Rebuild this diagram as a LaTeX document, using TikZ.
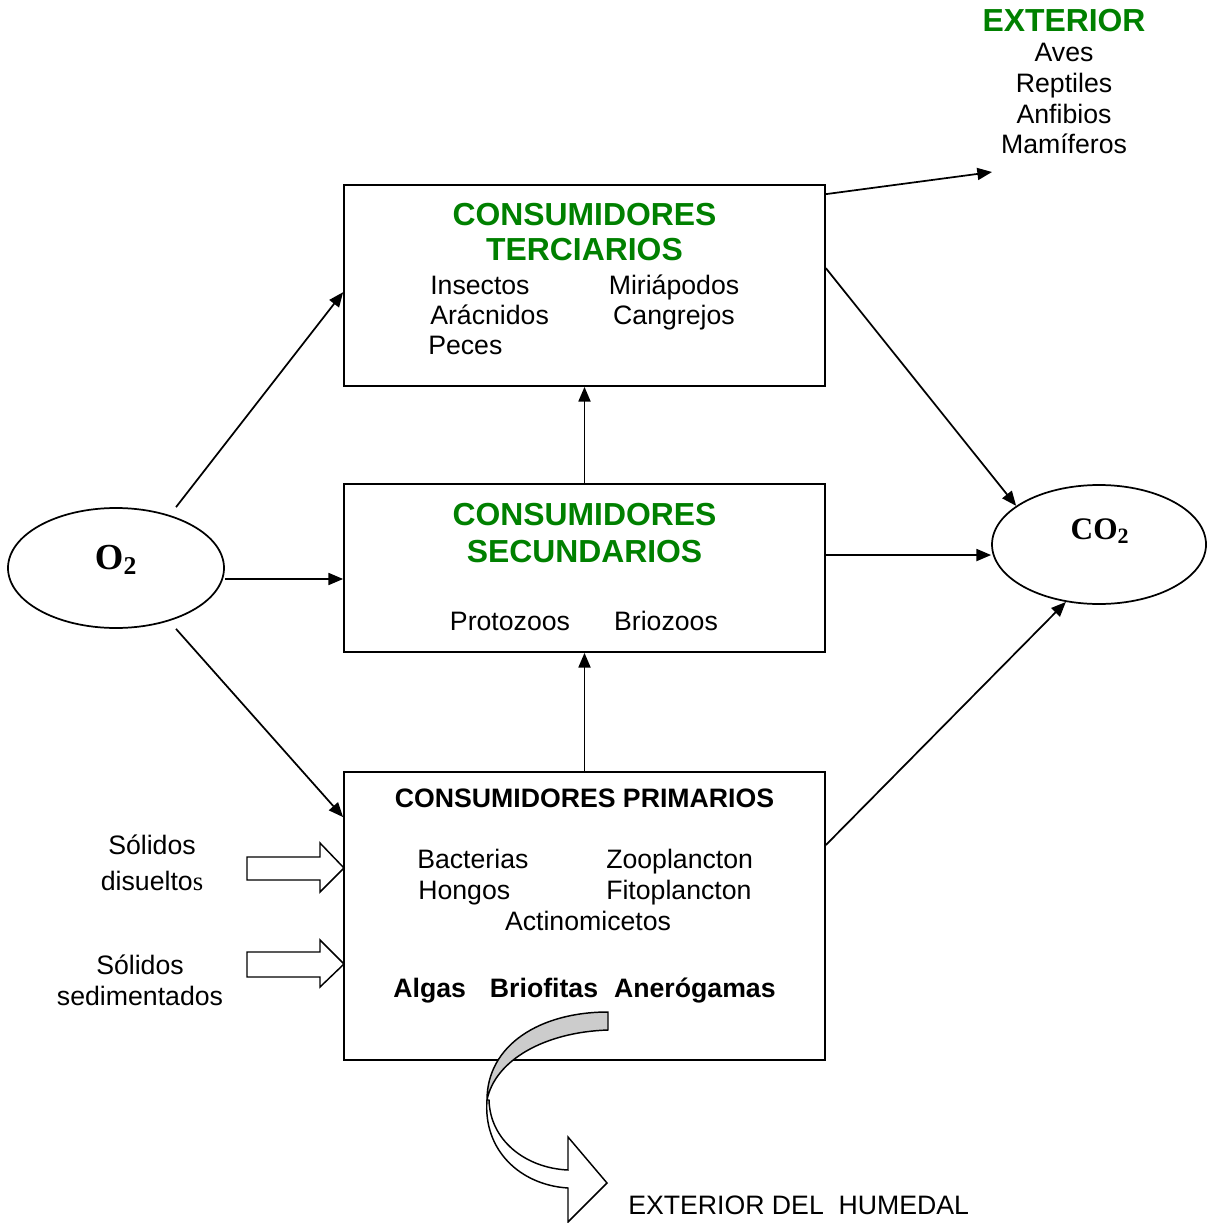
\documentclass[tikz,border=0pt]{standalone}
\usepackage{fontspec}
\setmainfont{Liberation Sans}
\newfontfamily\timesfont{Liberation Serif}
\usepackage{xcolor}
\usetikzlibrary{shapes,shapes.geometric,arrows.meta,positioning,calc}
\definecolor{verdeword}{RGB}{0,128,0}
\tikzset{
  caja/.style={draw, line width=1.3pt, minimum width=360.75pt, inner sep=0pt},
  gas/.style={draw, ellipse, line width=1.3pt, inner sep=0pt},
  flecha/.style={line width=1.3pt, -{Triangle[length=11pt,width=9pt]}},
  texto/.style={inner sep=0pt, font=\fontsize{20pt}{24pt}\selectfont},
  titulo/.style={inner sep=0pt, text=verdeword, font=\fontsize{23.9pt}{28pt}\selectfont\bfseries},
  gasname/.style={inner sep=0pt, font=\timesfont\bfseries},
  bloque/.style={draw, line width=1.1pt, fill=white},
}

\begin{document}
\begin{tikzpicture}[x=0.75pt, y=-0.75pt]
    \useasboundingbox (0,0) rectangle (1206,1223);

    % Cajas
    \node[caja, minimum height=150.75pt] (TERC) at (584.5,285.5) {};
    \node[caja, minimum height=126pt] (SEC) at (584.5,568) {};
    \node[caja, minimum height=216pt] (PRIM) at (584.5,916) {};

    % Gases
    \node[gas, minimum width=162pt, minimum height=90pt] (O2) at (116,568) {};
    \node[gasname, anchor=base, font=\timesfont\bfseries\fontsize{27.5pt}{31pt}\selectfont] (o2txt) at (116,569) {O\textsubscript{2}};
    \node[gas, minimum width=160.5pt, minimum height=89.25pt] (CO2) at (1099,544.5) {};
    \node[gasname, anchor=base, font=\timesfont\bfseries\fontsize{23.5pt}{27pt}\selectfont] (co2txt) at (1100,539) {CO\textsubscript{2}};

    % Exterior
    \node[titulo, anchor=base] (ext) at (1064,32) {EXTERIOR};
    \node[texto, anchor=base] (aves) at (1064,62) {Aves};
    \node[texto, anchor=base] (reptiles) at (1064,93) {Reptiles};
    \node[texto, anchor=base] (anfibios) at (1064,124) {Anfibios};
    \node[texto, anchor=base] (mamiferos) at (1064,154) {Mamíferos};
    \coordinate (exterior) at (992,172);

    % Consumidores terciarios
    \node[titulo, anchor=base] (terc1) at (584.5,225) {CONSUMIDORES};
    \node[titulo, anchor=base] (terc2) at (584.5,261) {TERCIARIOS};
    \node[texto, anchor=base west] (insectos) at (430,294) {Insectos};
    \node[texto, anchor=base west] (aracnidos) at (430,324) {Arácnidos};
    \node[texto, anchor=base west] (peces) at (428,354) {Peces};
    \node[texto, anchor=base] (miriapodos) at (674,294) {Miriápodos};
    \node[texto, anchor=base] (cangrejos) at (674,324) {Cangrejos};

    % Consumidores secundarios
    \node[titulo, anchor=base] (sec1) at (584.5,525) {CONSUMIDORES};
    \node[titulo, anchor=base] (sec2) at (584.5,562) {SECUNDARIOS};
    \node[texto, anchor=base] (protozoos) at (510,630) {Protozoos};
    \node[texto, anchor=base] (briozoos) at (666,630) {Briozoos};

    % Consumidores primarios
    \node[texto, anchor=base, font=\fontsize{20pt}{24pt}\selectfont\bfseries] (prim1) at (584.5,807.5) {CONSUMIDORES PRIMARIOS};
    \node[texto, anchor=base west] (bacterias) at (417,868) {Bacterias};
    \node[texto, anchor=base west] (hongos) at (418,899) {Hongos};
    \node[texto, anchor=base west] (zooplancton) at (606,868) {Zooplancton};
    \node[texto, anchor=base west] (fitoplancton) at (606,899) {Fitoplancton};
    \node[texto, anchor=base] (actino) at (588,930) {Actinomicetos};
    \node[texto, anchor=base, font=\fontsize{20pt}{24pt}\selectfont\bfseries] (algas) at (584.5,997) {Algas\hspace{18pt}Briofitas\hspace{12pt}Anerógamas};

    % Solidos
    \node[texto, anchor=base] (sol1a) at (152,854) {Sólidos};
    \node[texto, anchor=base] (sol1b) at (152,890) {disuelto{\timesfont s}};
    \node[texto, anchor=base] (sol2a) at (140,974) {Sólidos};
    \node[texto, anchor=base] (sol2b) at (140,1005) {sedimentados};
    \node[texto, anchor=base west] (humedal) at (628,1214) {EXTERIOR DEL\ \ HUMEDAL};

    % Flechas
    \draw[flecha] ([xshift=45pt]O2.north) -- ([yshift=-5pt]TERC.west);
    \draw[flecha] ([yshift=-8.25pt]O2.east) -- ([yshift=-8.25pt]SEC.west);
    \draw[flecha] ([xshift=45pt]O2.south) -- ([yshift=-34.5pt]PRIM.north west);
    \draw[flecha] (SEC.north) -- (TERC.south);
    \draw[flecha] (PRIM.north) -- (SEC.south);
    \draw[flecha] ([yshift=13pt]TERC.east) -- (CO2.155);
    \draw[flecha] ([yshift=9.75pt]SEC.east) -- ([yshift=-7.9pt]CO2.west);
    \draw[flecha] ([yshift=53.25pt]PRIM.east) -- (CO2.240);
    \draw[flecha] ([yshift=-7.5pt]TERC.north east) -- (exterior);

    % Flechas de bloque
    \draw[bloque] (247,857) -- (320,857) -- (320,843) -- (344,868) -- (320,892) -- (320,880) -- (247,880) -- cycle;
    \draw[bloque] (247,952) -- (320,952) -- (320,940) -- (344,964) -- (320,987) -- (320,977) -- (247,977) -- cycle;

    % Flecha curva
    \draw[bloque, fill=black!20] (608,1012) .. controls (540,1012) and (487,1045) .. (487,1100)
        .. controls (495,1060) and (545,1032) .. (608,1030) -- cycle;
    \draw[bloque] (489,1100) .. controls (490,1140) and (525,1168) .. (568,1170) -- (568,1137) -- (607,1183)
        -- (568,1222) -- (568,1188) .. controls (520,1185) and (483,1150) .. (487,1100) -- cycle;

\end{tikzpicture}
\end{document}
